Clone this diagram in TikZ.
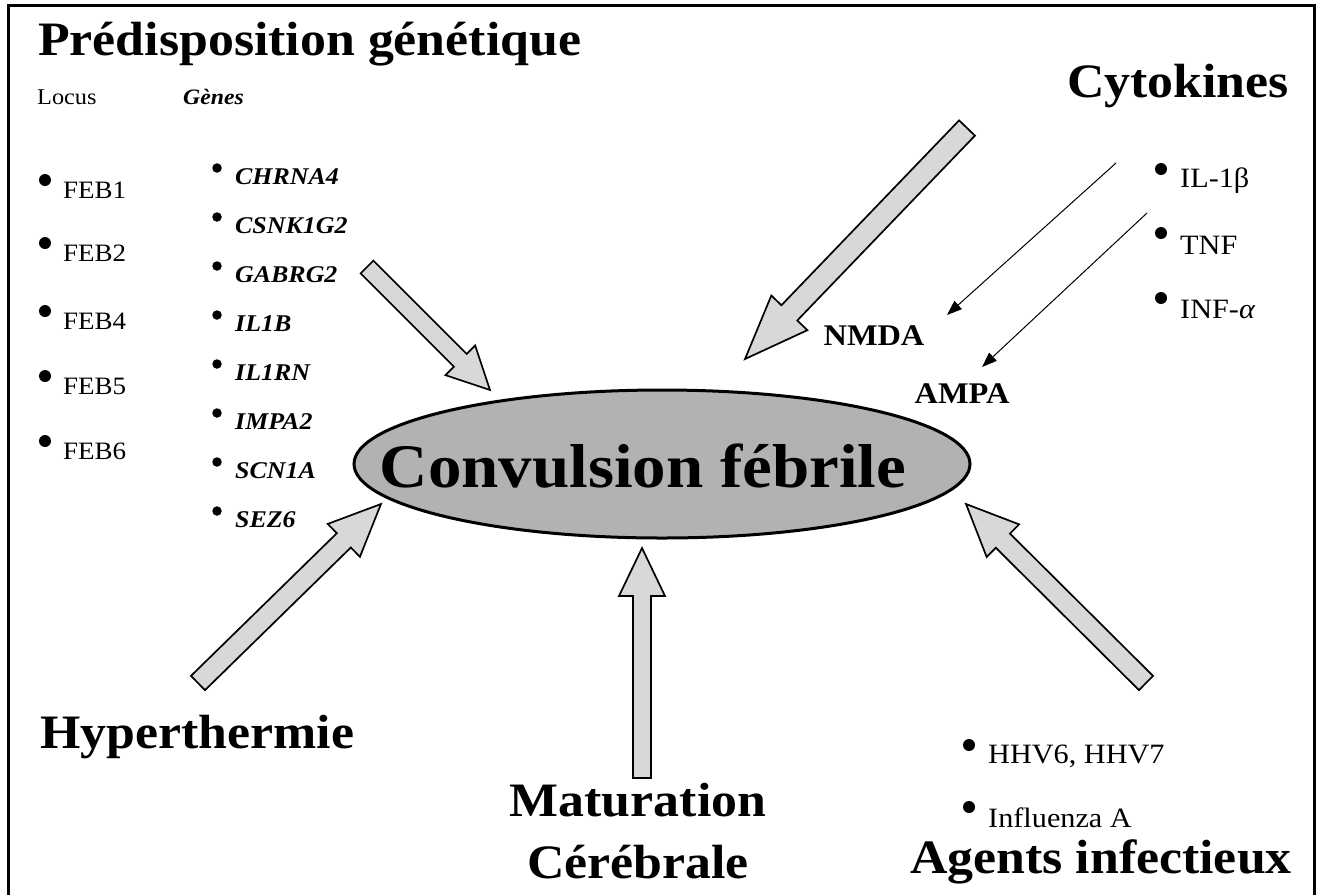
\documentclass[tikz,border=0pt]{standalone}
\usepackage{fontspec}
\setmainfont{Liberation Serif}
\usetikzlibrary{calc,shapes.geometric,arrows.meta}
\definecolor{arrgray}{RGB}{216,216,216}
\definecolor{ellgray}{RGB}{178,178,178}
\newcommand\st[1]{\scalebox{1.08}[1]{#1}}
% tail, tip, shaft half width, head half width, head length
\newcommand\blockarr[5]{%
  \coordinate (#1n) at ($(#2)!#5!(#1)$);
  \draw[blockarrow] ($(#1)!#3!90:(#2)$) -- ($(#1n)!#3!90:(#2)$) -- ($(#1n)!#4!90:(#2)$) -- (#2)
    -- ($(#1n)!#4!-90:(#2)$) -- ($(#1n)!#3!-90:(#2)$) -- ($(#1)!#3!-90:(#2)$) -- cycle;}
\begin{document}
\begin{tikzpicture}[x=1pt,y=-1pt,
  heading/.style={font=\bfseries\fontsize{48}{52}\selectfont,inner sep=0pt},
  locus/.style={font=\fontsize{22.5}{25}\selectfont,inner sep=0pt,anchor=west},
  item/.style={font=\fontsize{25}{28}\selectfont,inner sep=0pt,anchor=west},
  bigitem/.style={font=\fontsize{28}{31}\selectfont,inner sep=0pt,anchor=west},
  gene/.style={font=\bfseries\itshape\fontsize{24}{27}\selectfont,inner sep=0pt,anchor=west},
  recep/.style={font=\bfseries\fontsize{30}{33}\selectfont,inner sep=0pt},
  bigdot/.style={circle,fill=black,inner sep=0pt,minimum size=12pt},
  smalldot/.style={circle,fill=black,inner sep=0pt,minimum size=9.5pt},
  blockarrow/.style={draw=black,line width=1.7pt,fill=arrgray,line join=miter},
  thin/.style={line width=1pt,-{Triangle[length=15pt,width=11pt]}},
  frame/.style={line width=3pt}]
\useasboundingbox (0,0) rectangle (1319,895);
% frame
\coordinate (fbl) at (8,895);
\coordinate (ftl) at (8,5);
\coordinate (ftr) at (1314,5);
\coordinate (fbr) at (1314,895);
\draw[frame] (fbl) -- (ftl) -- (ftr) -- (fbr);

% central ellipse
\node[ellipse,draw=black,line width=3pt,fill=ellgray,minimum width=616pt,minimum height=148pt] (cf) at (662,464) {};
\node[font=\bfseries\fontsize{62}{66}\selectfont,inner sep=0pt] (cft) at (643,466) {\st{Convulsion fébrile}};

% Prédisposition génétique
\node[heading,anchor=west] (pg) at (38,44) {\st{Prédisposition génétique}};
\node[locus] (locus) at (37,97) {\st{Locus}};
\node[locus,font=\bfseries\itshape\fontsize{22}{24}\selectfont] (genes) at (183,97) {\st{Gènes}};
\foreach \t/\y [count=\i] in {FEB1/190,FEB2/253,FEB4/321,FEB5/386,FEB6/451}{
  \node[bigdot] (lb\i) at (45,\y-10) {};
  \node[item] (l\i) at (63,\y) {\st{\t}};
}
\foreach \t/\y [count=\i] in {CHRNA4/177,CSNK1G2/226,GABRG2/275,IL1B/324,IL1RN/373,IMPA2/422,SCN1A/471,SEZ6/520}{
  \node[smalldot] (gb\i) at (217,\y-9) {};
  \node[gene] (g\i) at (235,\y) {\st{\t}};
}

% Cytokines
\node[heading,anchor=east] (cyt) at (1289,86) {\st{Cytokines}};
\node[bigdot] (cb1) at (1161,169) {};
\node[bigitem] (c1) at (1180,181) {\st{IL-1β}};
\node[bigdot] (cb2) at (1161,233) {};
\node[bigitem] (c2) at (1180,245) {\st{TNF}};
\node[bigdot] (cb3) at (1161,298) {};
\node[bigitem] (c3) at (1180,309) {\st{INF-\textit{α}}};
\node[recep] (nmda) at (874,336) {\st{NMDA}};
\node[recep] (ampa) at (962,394) {\st{AMPA}};
\coordinate (t1s) at (1116,163);
\coordinate (t1e) at (947,315);
\coordinate (t2s) at (1147,213);
\coordinate (t2e) at (982,367);
\draw[thin] (t1s) -- (t1e);
\draw[thin] (t2s) -- (t2e);

% Hyperthermie, Maturation, Agents
\node[heading,anchor=west] (hyp) at (40,737) {\st{Hyperthermie}};
\node[heading] (mat) at (638,800) {\st{Maturation}};
\node[heading] (cer) at (638,862) {\st{Cérébrale}};
\node[bigdot] (ab1) at (969,745) {};
\node[bigitem] (a1) at (988,756) {\st{HHV6, HHV7}};
\node[bigdot] (ab2) at (969,807) {};
\node[bigitem] (a2) at (988,818) {\st{Influenza A}};
\node[heading,anchor=west] (agt) at (910,862) {\st{Agents infectieux}};

% block arrows
\coordinate (ga) at (367,267);  \coordinate (gt) at (490,390);
\coordinate (ca) at (967,128);  \coordinate (ct) at (745,359);
\coordinate (ha) at (198,683);  \coordinate (ht) at (381,504);
\coordinate (ma) at (642,778);  \coordinate (mt) at (642,548);
\coordinate (aa) at (1146,683); \coordinate (at) at (966,504);
\blockarr{ga}{gt}{9pt}{21pt}{42pt}
\blockarr{ca}{ct}{11pt}{25pt}{64pt}
\blockarr{ha}{ht}{10pt}{23pt}{52pt}
\blockarr{ma}{mt}{9pt}{23pt}{48pt}
\blockarr{aa}{at}{10pt}{23pt}{52pt}
\end{tikzpicture}
\end{document}
